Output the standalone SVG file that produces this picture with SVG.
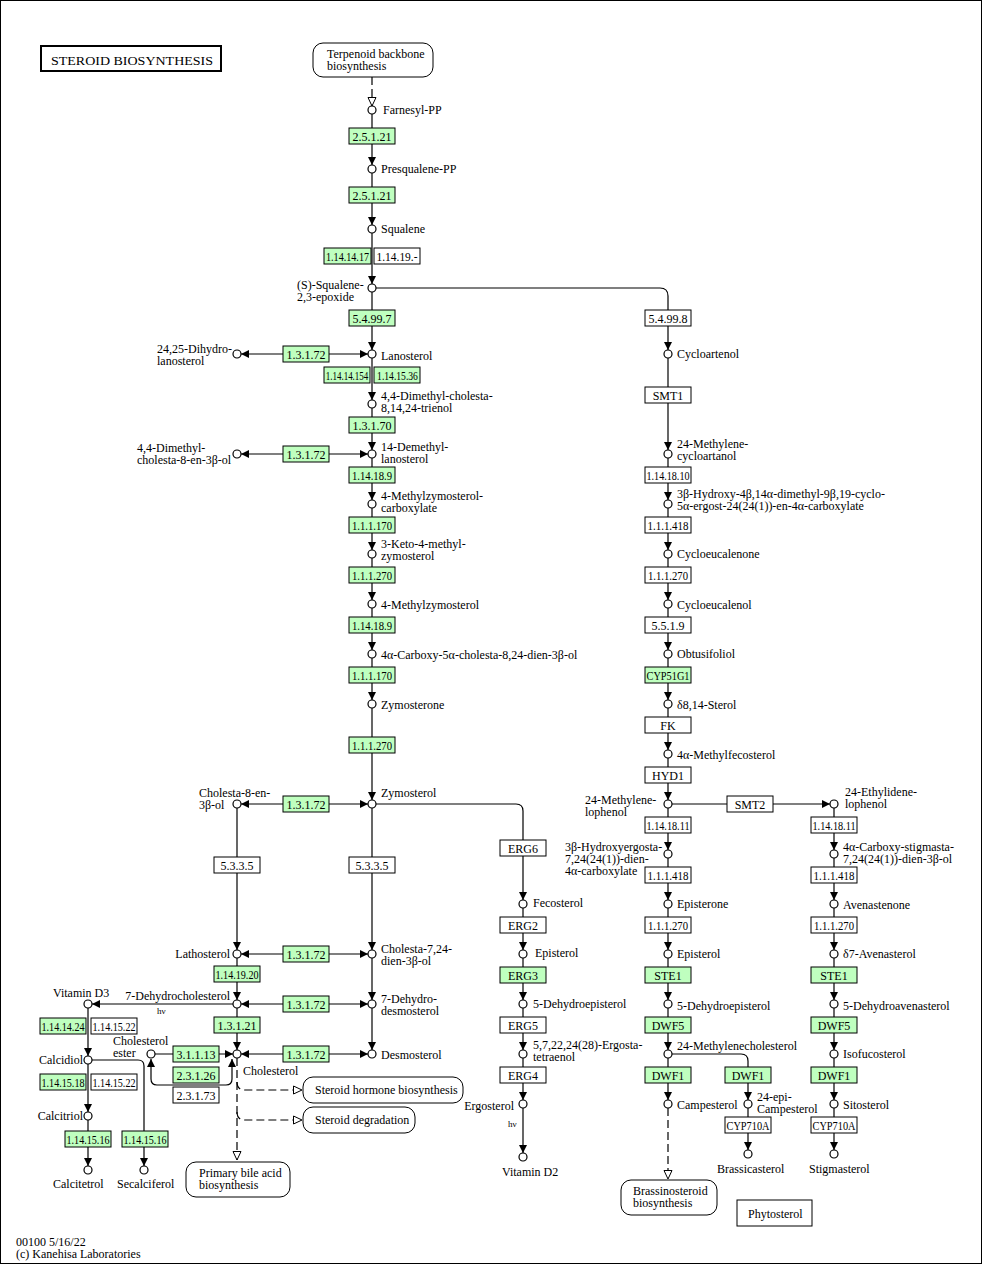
<svg xmlns="http://www.w3.org/2000/svg" width="982" height="1265" viewBox="0 0 982 1265">
<style>
text{font-family:"Liberation Serif","Times New Roman",serif;font-size:12px;fill:#000}
.e rect{fill:#fff;stroke:#000;stroke-width:1}
.g rect{fill:#bfffbf}
.e text{text-anchor:middle}
.c circle{fill:#fff;stroke:#000;stroke-width:1.2}
.m rect{fill:#fff;stroke:#000;stroke-width:1}
#conn path{fill:none;stroke:#000;stroke-width:1.2}
#conn .a{marker-end:url(#ah)}
#conn .b{marker-start:url(#ah);marker-end:url(#ah)}
#conn .d{stroke-dasharray:8 4;marker-end:url(#oh)}
.hv{font-size:9px}
</style>
<defs>
<marker id="ah" viewBox="0 0 8 8" refX="8" refY="4" markerWidth="8" markerHeight="8" markerUnits="userSpaceOnUse" orient="auto-start-reverse"><path d="M0,0 L8,4 L0,8 z" fill="#000" stroke="none"/></marker>
<marker id="oh" viewBox="0 0 10 10" refX="9.5" refY="5" markerWidth="10" markerHeight="10" markerUnits="userSpaceOnUse" orient="auto"><path d="M1,1 L9.5,5 L1,9 z" fill="#fff" stroke="#000" stroke-width="1" stroke-dasharray="none"/></marker>
</defs>
<rect x="0.5" y="0.5" width="981" height="1263" fill="#fff" stroke="#000" stroke-width="1"/>
<g id="title"><rect x="41" y="46" width="180" height="25" fill="#fff" stroke="#000" stroke-width="2"/><text x="51" y="65" font-size="14" textLength="162" lengthAdjust="spacingAndGlyphs">STEROID  BIOSYNTHESIS</text></g>

<g id="conn">
<path class="d" d="M372,77 V106"/>
<path class="a" d="M372,114 V165"/>
<path class="a" d="M372,173 V225"/>
<path class="a" d="M372,233 V284"/>
<path class="a" d="M372,292 V350"/>
<path class="a" d="M372,358 V400"/>
<path class="a" d="M372,408 V450"/>
<path class="a" d="M372,458 V500"/>
<path class="a" d="M372,508 V550"/>
<path class="a" d="M372,558 V600"/>
<path class="a" d="M372,608 V650"/>
<path class="a" d="M372,658 V700"/>
<path class="a" d="M372,708 V800"/>
<path class="b" d="M368,354 H241"/>
<path class="b" d="M368,454 H241"/>
<path class="b" d="M368,804 H241"/>
<path class="b" d="M368,954 H241"/>
<path class="b" d="M368,1004 H241"/>
<path class="b" d="M368,1054 H241"/>
<path class="a" d="M237,808 V950"/>
<path class="a" d="M237,958 V1000"/>
<path class="a" d="M237,1008 V1050"/>
<path class="a" d="M372,808 V950"/>
<path class="a" d="M372,958 V1000"/>
<path class="a" d="M372,1008 V1050"/>
<path class="a" d="M233,1004 H92"/>
<path class="a" d="M88,1008 V1056"/>
<path class="a" d="M88,1064 V1112"/>
<path class="a" d="M88,1120 V1166"/>
<path class="a" d="M92,1060 H138 Q144,1060 144,1066 V1166"/>
<path class="a" d="M155,1054 H233"/>
<path class="b" d="M151,1059 V1079 Q151,1085 157,1085 H226 Q232,1085 232,1079 V1059"/>
<path class="d" d="M237,1058 V1160"/>
<path class="d" d="M237,1082 Q237,1090 245,1090 H302"/>
<path class="d" d="M237,1112 Q237,1120 245,1120 H302"/>
<path class="a" d="M376,804 H516 Q523,804 523,811 V900"/>
<path class="a" d="M523,908 V950"/>
<path class="a" d="M523,958 V1000"/>
<path class="a" d="M523,1008 V1050"/>
<path class="a" d="M523,1058 V1100"/>
<path class="a" d="M523,1108 V1153"/>
<path class="a" d="M376,288 H660 Q668,288 668,296 V350"/>
<path class="a" d="M668,358 V450"/>
<path class="a" d="M668,458 V500"/>
<path class="a" d="M668,508 V550"/>
<path class="a" d="M668,558 V600"/>
<path class="a" d="M668,608 V650"/>
<path class="a" d="M668,658 V700"/>
<path class="a" d="M668,708 V750"/>
<path class="a" d="M668,758 V800"/>
<path class="a" d="M668,808 V850"/>
<path class="a" d="M668,858 V900"/>
<path class="a" d="M668,908 V950"/>
<path class="a" d="M668,958 V1000"/>
<path class="a" d="M668,1008 V1050"/>
<path class="a" d="M668,1058 V1100"/>
<path class="d" d="M668,1108 V1179"/>
<path class="a" d="M672,804 H830"/>
<path class="a" d="M672,1054 H741 Q748,1054 748,1061 V1100"/>
<path class="a" d="M748,1108 V1150"/>
<path class="a" d="M834,808 V850"/>
<path class="a" d="M834,858 V900"/>
<path class="a" d="M834,908 V950"/>
<path class="a" d="M834,958 V1000"/>
<path class="a" d="M834,1008 V1050"/>
<path class="a" d="M834,1058 V1100"/>
<path class="a" d="M834,1108 V1150"/>
</g>

<!-- enzymes -->
<g id="ec1" class="e g"><rect x="349" y="128" width="46" height="16"/><text x="372" y="140.5">2.5.1.21</text></g>
<g id="ec2" class="e g"><rect x="349" y="187" width="46" height="16"/><text x="372" y="199.5">2.5.1.21</text></g>
<g id="ec3" class="e g"><rect x="324" y="248" width="47" height="16"/><text x="347.5" y="260.5" textLength="43" lengthAdjust="spacingAndGlyphs">1.14.14.17</text></g>
<g id="ec4" class="e"><rect x="374" y="248" width="46" height="16"/><text x="397" y="260.5" textLength="41" lengthAdjust="spacingAndGlyphs">1.14.19.-</text></g>
<g id="ec5" class="e g"><rect x="349" y="310" width="46" height="16"/><text x="372" y="322.5">5.4.99.7</text></g>
<g id="ec6" class="e g"><rect x="283" y="346" width="46" height="16"/><text x="306" y="358.5">1.3.1.72</text></g>
<g id="ec7" class="e g"><rect x="324" y="367" width="46" height="16"/><text transform="translate(347 379.5) scale(0.75 1)">1.14.14.154</text></g>
<g id="ec8" class="e g"><rect x="374" y="367" width="46" height="16"/><text transform="translate(397.5 379.5) scale(0.8 1)">1.14.15.36</text></g>
<g id="ec9" class="e g"><rect x="349" y="417" width="46" height="16"/><text x="372" y="429.5">1.3.1.70</text></g>
<g id="ec10" class="e g"><rect x="283" y="446" width="46" height="16"/><text x="306" y="458.5">1.3.1.72</text></g>
<g id="ec11" class="e g"><rect x="349" y="467" width="46" height="16"/><text x="372" y="479.5" textLength="40" lengthAdjust="spacingAndGlyphs">1.14.18.9</text></g>
<g id="ec12" class="e g"><rect x="349" y="517" width="46" height="16"/><text x="372" y="529.5" textLength="40" lengthAdjust="spacingAndGlyphs">1.1.1.170</text></g>
<g id="ec13" class="e g"><rect x="349" y="567" width="46" height="16"/><text x="372" y="579.5" textLength="40" lengthAdjust="spacingAndGlyphs">1.1.1.270</text></g>
<g id="ec14" class="e g"><rect x="349" y="617" width="46" height="16"/><text x="372" y="629.5" textLength="40" lengthAdjust="spacingAndGlyphs">1.14.18.9</text></g>
<g id="ec15" class="e g"><rect x="349" y="667" width="46" height="16"/><text x="372" y="679.5" textLength="40" lengthAdjust="spacingAndGlyphs">1.1.1.170</text></g>
<g id="ec16" class="e g"><rect x="349" y="737" width="46" height="16"/><text x="372" y="749.5" textLength="40" lengthAdjust="spacingAndGlyphs">1.1.1.270</text></g>
<g id="ec17" class="e g"><rect x="283" y="796" width="46" height="16"/><text x="306" y="808.5">1.3.1.72</text></g>
<g id="ec18" class="e"><rect x="214" y="857" width="46" height="16"/><text x="237" y="869.5">5.3.3.5</text></g>
<g id="ec19" class="e"><rect x="349" y="857" width="46" height="16"/><text x="372" y="869.5">5.3.3.5</text></g>
<g id="ec20" class="e g"><rect x="283" y="946" width="46" height="16"/><text x="306" y="958.5">1.3.1.72</text></g>
<g id="ec21" class="e g"><rect x="214" y="966" width="46" height="16"/><text x="237" y="978.5" textLength="43" lengthAdjust="spacingAndGlyphs">1.14.19.20</text></g>
<g id="ec22" class="e g"><rect x="283" y="996" width="46" height="16"/><text x="306" y="1008.5">1.3.1.72</text></g>
<g id="ec23" class="e g"><rect x="214" y="1017" width="46" height="16"/><text x="237" y="1029.5">1.3.1.21</text></g>
<g id="ec24" class="e g"><rect x="283" y="1046" width="46" height="16"/><text x="306" y="1058.5">1.3.1.72</text></g>
<g id="ec25" class="e g"><rect x="173" y="1046" width="46" height="16"/><text x="196" y="1058.5">3.1.1.13</text></g>
<g id="ec26" class="e g"><rect x="173" y="1067" width="46" height="16"/><text x="196" y="1079.5">2.3.1.26</text></g>
<g id="ec27" class="e"><rect x="173" y="1087" width="46" height="16"/><text x="196" y="1099.5">2.3.1.73</text></g>
<g id="ec28" class="e g"><rect x="40" y="1018" width="46" height="16"/><text x="63" y="1030.5" textLength="43" lengthAdjust="spacingAndGlyphs">1.14.14.24</text></g>
<g id="ec29" class="e"><rect x="91" y="1018" width="46" height="16"/><text x="114" y="1030.5" textLength="43" lengthAdjust="spacingAndGlyphs">1.14.15.22</text></g>
<g id="ec30" class="e g"><rect x="40" y="1074" width="46" height="16"/><text x="63" y="1086.5" textLength="43" lengthAdjust="spacingAndGlyphs">1.14.15.18</text></g>
<g id="ec31" class="e"><rect x="91" y="1074" width="46" height="16"/><text x="114" y="1086.5" textLength="43" lengthAdjust="spacingAndGlyphs">1.14.15.22</text></g>
<g id="ec32" class="e g"><rect x="65" y="1131" width="46" height="16"/><text x="88" y="1143.5" textLength="43" lengthAdjust="spacingAndGlyphs">1.14.15.16</text></g>
<g id="ec33" class="e g"><rect x="122" y="1131" width="46" height="16"/><text x="145" y="1143.5" textLength="43" lengthAdjust="spacingAndGlyphs">1.14.15.16</text></g>
<g id="erg6" class="e"><rect x="500" y="840" width="46" height="16"/><text x="523" y="852.5">ERG6</text></g>
<g id="erg2" class="e"><rect x="500" y="917" width="46" height="16"/><text x="523" y="929.5">ERG2</text></g>
<g id="erg3" class="e g"><rect x="500" y="967" width="46" height="16"/><text x="523" y="979.5">ERG3</text></g>
<g id="erg5" class="e"><rect x="500" y="1017" width="46" height="16"/><text x="523" y="1029.5">ERG5</text></g>
<g id="erg4" class="e"><rect x="500" y="1067" width="46" height="16"/><text x="523" y="1079.5">ERG4</text></g>
<g id="ec34" class="e"><rect x="645" y="310" width="46" height="16"/><text x="668" y="322.5">5.4.99.8</text></g>
<g id="smt1" class="e"><rect x="645" y="387" width="46" height="16"/><text x="668" y="399.5">SMT1</text></g>
<g id="ec35" class="e"><rect x="645" y="467" width="46" height="16"/><text x="668" y="479.5" textLength="43" lengthAdjust="spacingAndGlyphs">1.14.18.10</text></g>
<g id="ec36" class="e"><rect x="645" y="517" width="46" height="16"/><text x="668" y="529.5" textLength="41" lengthAdjust="spacingAndGlyphs">1.1.1.418</text></g>
<g id="ec37" class="e"><rect x="645" y="567" width="46" height="16"/><text x="668" y="579.5" textLength="40" lengthAdjust="spacingAndGlyphs">1.1.1.270</text></g>
<g id="ec38" class="e"><rect x="645" y="617" width="46" height="16"/><text x="668" y="629.5">5.5.1.9</text></g>
<g id="cyp51" class="e g"><rect x="645" y="667" width="46" height="16"/><text x="668" y="679.5" textLength="43" lengthAdjust="spacingAndGlyphs">CYP51G1</text></g>
<g id="fk" class="e"><rect x="645" y="717" width="46" height="16"/><text x="668" y="729.5">FK</text></g>
<g id="hyd1" class="e"><rect x="645" y="767" width="46" height="16"/><text x="668" y="779.5">HYD1</text></g>
<g id="smt2" class="e"><rect x="727" y="796" width="46" height="16"/><text x="750" y="808.5">SMT2</text></g>
<g id="ec39" class="e"><rect x="645" y="817" width="46" height="16"/><text x="668" y="829.5" textLength="43" lengthAdjust="spacingAndGlyphs">1.14.18.11</text></g>
<g id="ec40" class="e"><rect x="811" y="817" width="46" height="16"/><text x="834" y="829.5" textLength="43" lengthAdjust="spacingAndGlyphs">1.14.18.11</text></g>
<g id="ec41" class="e"><rect x="645" y="867" width="46" height="16"/><text x="668" y="879.5" textLength="41" lengthAdjust="spacingAndGlyphs">1.1.1.418</text></g>
<g id="ec42" class="e"><rect x="811" y="867" width="46" height="16"/><text x="834" y="879.5" textLength="41" lengthAdjust="spacingAndGlyphs">1.1.1.418</text></g>
<g id="ec43" class="e"><rect x="645" y="917" width="46" height="16"/><text x="668" y="929.5" textLength="40" lengthAdjust="spacingAndGlyphs">1.1.1.270</text></g>
<g id="ec44" class="e"><rect x="811" y="917" width="46" height="16"/><text x="834" y="929.5" textLength="40" lengthAdjust="spacingAndGlyphs">1.1.1.270</text></g>
<g id="ste1a" class="e g"><rect x="645" y="967" width="46" height="16"/><text x="668" y="979.5">STE1</text></g>
<g id="ste1b" class="e g"><rect x="811" y="967" width="46" height="16"/><text x="834" y="979.5">STE1</text></g>
<g id="dwf5a" class="e g"><rect x="645" y="1017" width="46" height="16"/><text x="668" y="1029.5">DWF5</text></g>
<g id="dwf5b" class="e g"><rect x="811" y="1017" width="46" height="16"/><text x="834" y="1029.5">DWF5</text></g>
<g id="dwf1a" class="e g"><rect x="645" y="1067" width="46" height="16"/><text x="668" y="1079.5">DWF1</text></g>
<g id="dwf1b" class="e g"><rect x="725" y="1067" width="46" height="16"/><text x="748" y="1079.5">DWF1</text></g>
<g id="dwf1c" class="e g"><rect x="811" y="1067" width="46" height="16"/><text x="834" y="1079.5">DWF1</text></g>
<g id="cyp710a" class="e"><rect x="725" y="1117" width="46" height="16"/><text x="748" y="1129.5" textLength="43" lengthAdjust="spacingAndGlyphs">CYP710A</text></g>
<g id="cyp710b" class="e"><rect x="811" y="1117" width="46" height="16"/><text x="834" y="1129.5" textLength="43" lengthAdjust="spacingAndGlyphs">CYP710A</text></g>

<!-- compounds -->
<g id="c_farnesyl" class="c"><circle cx="372" cy="110" r="4"/><text x="383" y="114">Farnesyl-PP</text></g>
<g id="c_presq" class="c"><circle cx="372" cy="169" r="4"/><text x="381" y="173">Presqualene-PP</text></g>
<g id="c_squalene" class="c"><circle cx="372" cy="229" r="4"/><text x="381" y="233">Squalene</text></g>
<g id="c_epoxide" class="c"><circle cx="372" cy="288" r="4"/><text x="297" y="288.5">(S)-Squalene-</text><text x="297" y="300.5">2,3-epoxide</text></g>
<g id="c_dihydrolan" class="c"><circle cx="237" cy="354" r="4"/><text x="157" y="352.5">24,25-Dihydro-</text><text x="157" y="364.5">lanosterol</text></g>
<g id="c_lanosterol" class="c"><circle cx="372" cy="354" r="4"/><text x="381" y="360">Lanosterol</text></g>
<g id="c_dmct" class="c"><circle cx="372" cy="404" r="4"/><text x="381" y="399.5">4,4-Dimethyl-cholesta-</text><text x="381" y="411.5">8,14,24-trienol</text></g>
<g id="c_dmc8" class="c"><circle cx="237" cy="454" r="4"/><text x="137" y="451.5">4,4-Dimethyl-</text><text x="137" y="463.5">cholesta-8-en-3β-ol</text></g>
<g id="c_14dm" class="c"><circle cx="372" cy="454" r="4"/><text x="381" y="450.5">14-Demethyl-</text><text x="381" y="462.5">lanosterol</text></g>
<g id="c_4mzc" class="c"><circle cx="372" cy="504" r="4"/><text x="381" y="499.5">4-Methylzymosterol-</text><text x="381" y="511.5">carboxylate</text></g>
<g id="c_3k4m" class="c"><circle cx="372" cy="554" r="4"/><text x="381" y="547.5">3-Keto-4-methyl-</text><text x="381" y="559.5">zymosterol</text></g>
<g id="c_4mz" class="c"><circle cx="372" cy="604" r="4"/><text x="381" y="609">4-Methylzymosterol</text></g>
<g id="c_4ac" class="c"><circle cx="372" cy="654" r="4"/><text x="381" y="659">4α-Carboxy-5α-cholesta-8,24-dien-3β-ol</text></g>
<g id="c_zymosterone" class="c"><circle cx="372" cy="704" r="4"/><text x="381" y="709">Zymosterone</text></g>
<g id="c_zymosterol" class="c"><circle cx="372" cy="804" r="4"/><text x="381" y="797">Zymosterol</text></g>
<g id="c_ch8en" class="c"><circle cx="237" cy="804" r="4"/><text x="199" y="796.5">Cholesta-8-en-</text><text x="199" y="808.5">3β-ol</text></g>
<g id="c_lathosterol" class="c"><circle cx="237" cy="954" r="4"/><text x="230" y="958" text-anchor="end">Lathosterol</text></g>
<g id="c_ch724" class="c"><circle cx="372" cy="954" r="4"/><text x="381" y="952.5">Cholesta-7,24-</text><text x="381" y="964.5">dien-3β-ol</text></g>
<g id="c_7dhc" class="c"><circle cx="237" cy="1004" r="4"/><text x="230" y="1000" text-anchor="end">7-Dehydrocholesterol</text><text x="157" y="1014" class="hv">hν</text></g>
<g id="c_7dhd" class="c"><circle cx="372" cy="1004" r="4"/><text x="381" y="1002.5">7-Dehydro-</text><text x="381" y="1014.5">desmosterol</text></g>
<g id="c_cholesterol" class="c"><circle cx="237" cy="1054" r="4"/><text x="243" y="1075">Cholesterol</text></g>
<g id="c_desmosterol" class="c"><circle cx="372" cy="1054" r="4"/><text x="381" y="1059">Desmosterol</text></g>
<g id="c_cholester" class="c"><circle cx="151" cy="1054" r="4"/><text x="113" y="1045">Cholesterol</text><text x="113" y="1057">ester</text></g>
<g id="c_vitd3" class="c"><circle cx="88" cy="1004" r="4"/><text x="53" y="997">Vitamin D3</text></g>
<g id="c_calcidiol" class="c"><circle cx="88" cy="1060" r="4"/><text x="83" y="1064" text-anchor="end">Calcidiol</text></g>
<g id="c_calcitriol" class="c"><circle cx="88" cy="1116" r="4"/><text x="83" y="1120" text-anchor="end">Calcitriol</text></g>
<g id="c_calcitetrol" class="c"><circle cx="88" cy="1170" r="4"/><text x="53" y="1188">Calcitetrol</text></g>
<g id="c_secalciferol" class="c"><circle cx="144" cy="1170" r="4"/><text x="117" y="1188">Secalciferol</text></g>
<g id="c_fecosterol" class="c"><circle cx="523" cy="904" r="4"/><text x="533" y="907">Fecosterol</text></g>
<g id="c_episterol_y" class="c"><circle cx="523" cy="954" r="4"/><text x="535" y="957">Episterol</text></g>
<g id="c_5dhe_y" class="c"><circle cx="523" cy="1004" r="4"/><text x="533" y="1008">5-Dehydroepisterol</text></g>
<g id="c_ergtetra" class="c"><circle cx="523" cy="1054" r="4"/><text x="533" y="1048.5">5,7,22,24(28)-Ergosta-</text><text x="533" y="1060.5">tetraenol</text></g>
<g id="c_ergosterol" class="c"><circle cx="523" cy="1104" r="4"/><text x="514" y="1110" text-anchor="end">Ergosterol</text><text x="508" y="1127" class="hv">hν</text></g>
<g id="c_vitd2" class="c"><circle cx="523" cy="1157" r="4"/><text x="502" y="1176">Vitamin D2</text></g>
<g id="c_cycloartenol" class="c"><circle cx="668" cy="354" r="4"/><text x="677" y="358">Cycloartenol</text></g>
<g id="c_24mca" class="c"><circle cx="668" cy="454" r="4"/><text x="677" y="447.5">24-Methylene-</text><text x="677" y="459.5">cycloartanol</text></g>
<g id="c_3bh" class="c"><circle cx="668" cy="504" r="4"/><text x="677" y="497.5">3β-Hydroxy-4β,14α-dimethyl-9β,19-cyclo-</text><text x="677" y="509.5">5α-ergost-24(24(1))-en-4α-carboxylate</text></g>
<g id="c_cycloeucalenone" class="c"><circle cx="668" cy="554" r="4"/><text x="677" y="558">Cycloeucalenone</text></g>
<g id="c_cycloeucalenol" class="c"><circle cx="668" cy="604" r="4"/><text x="677" y="609">Cycloeucalenol</text></g>
<g id="c_obtusifoliol" class="c"><circle cx="668" cy="654" r="4"/><text x="677" y="658">Obtusifoliol</text></g>
<g id="c_d814" class="c"><circle cx="668" cy="704" r="4"/><text x="677" y="709">δ8,14-Sterol</text></g>
<g id="c_4amf" class="c"><circle cx="668" cy="754" r="4"/><text x="677" y="759">4α-Methylfecosterol</text></g>
<g id="c_24ml" class="c"><circle cx="668" cy="804" r="4"/><text x="585" y="803.5">24-Methylene-</text><text x="585" y="815.5">lophenol</text></g>
<g id="c_24el" class="c"><circle cx="834" cy="804" r="4"/><text x="845" y="795.5">24-Ethylidene-</text><text x="845" y="807.5">lophenol</text></g>
<g id="c_3bhe" class="c"><circle cx="668" cy="854" r="4"/><text x="565" y="850.5">3β-Hydroxyergosta-</text><text x="565" y="862.5">7,24(24(1))-dien-</text><text x="565" y="874.5">4α-carboxylate</text></g>
<g id="c_4acs" class="c"><circle cx="834" cy="854" r="4"/><text x="843" y="850.5">4α-Carboxy-stigmasta-</text><text x="843" y="862.5">7,24(24(1))-dien-3β-ol</text></g>
<g id="c_episterone" class="c"><circle cx="668" cy="904" r="4"/><text x="677" y="908">Episterone</text></g>
<g id="c_avenastenone" class="c"><circle cx="834" cy="904" r="4"/><text x="843" y="909">Avenastenone</text></g>
<g id="c_episterol" class="c"><circle cx="668" cy="954" r="4"/><text x="677" y="958">Episterol</text></g>
<g id="c_d7av" class="c"><circle cx="834" cy="954" r="4"/><text x="843" y="958">δ7-Avenasterol</text></g>
<g id="c_5dhe" class="c"><circle cx="668" cy="1004" r="4"/><text x="677" y="1010">5-Dehydroepisterol</text></g>
<g id="c_5dha" class="c"><circle cx="834" cy="1004" r="4"/><text x="843" y="1010">5-Dehydroavenasterol</text></g>
<g id="c_24mc" class="c"><circle cx="668" cy="1054" r="4"/><text x="677" y="1050">24-Methylenecholesterol</text></g>
<g id="c_isofucosterol" class="c"><circle cx="834" cy="1054" r="4"/><text x="843" y="1058">Isofucosterol</text></g>
<g id="c_campesterol" class="c"><circle cx="668" cy="1104" r="4"/><text x="677" y="1109">Campesterol</text></g>
<g id="c_24epi" class="c"><circle cx="748" cy="1104" r="4"/><text x="757" y="1100.5">24-epi-</text><text x="757" y="1112.5">Campesterol</text></g>
<g id="c_sitosterol" class="c"><circle cx="834" cy="1104" r="4"/><text x="843" y="1109">Sitosterol</text></g>
<g id="c_brassicasterol" class="c"><circle cx="748" cy="1154" r="4"/><text x="717" y="1173">Brassicasterol</text></g>
<g id="c_stigmasterol" class="c"><circle cx="834" cy="1154" r="4"/><text x="809" y="1173">Stigmasterol</text></g>

<!-- maps -->
<g id="m_terpenoid" class="m"><rect x="313" y="43" width="120" height="34" rx="10"/><text x="327" y="57.5">Terpenoid backbone</text><text x="327" y="69.5">biosynthesis</text></g>
<g id="m_hormone" class="m"><rect x="303" y="1077" width="160" height="26" rx="10"/><text x="315" y="1094">Steroid hormone biosynthesis</text></g>
<g id="m_degradation" class="m"><rect x="303" y="1107" width="112" height="26" rx="10"/><text x="315" y="1124">Steroid degradation</text></g>
<g id="m_bile" class="m"><rect x="186" y="1162" width="104" height="35" rx="10"/><text x="199" y="1176.5">Primary bile acid</text><text x="199" y="1188.5">biosynthesis</text></g>
<g id="m_brassino" class="m"><rect x="621" y="1180" width="96" height="35" rx="10"/><text x="633" y="1194.5">Brassinosteroid</text><text x="633" y="1206.5">biosynthesis</text></g>
<g id="phytosterol" class="m"><rect x="737" y="1200" width="75" height="26"/><text x="748" y="1218">Phytosterol</text></g>

<g id="footer"><text x="16" y="1245.5">00100 5/16/22</text><text x="16" y="1257.5">(c) Kanehisa Laboratories</text></g>
</svg>
